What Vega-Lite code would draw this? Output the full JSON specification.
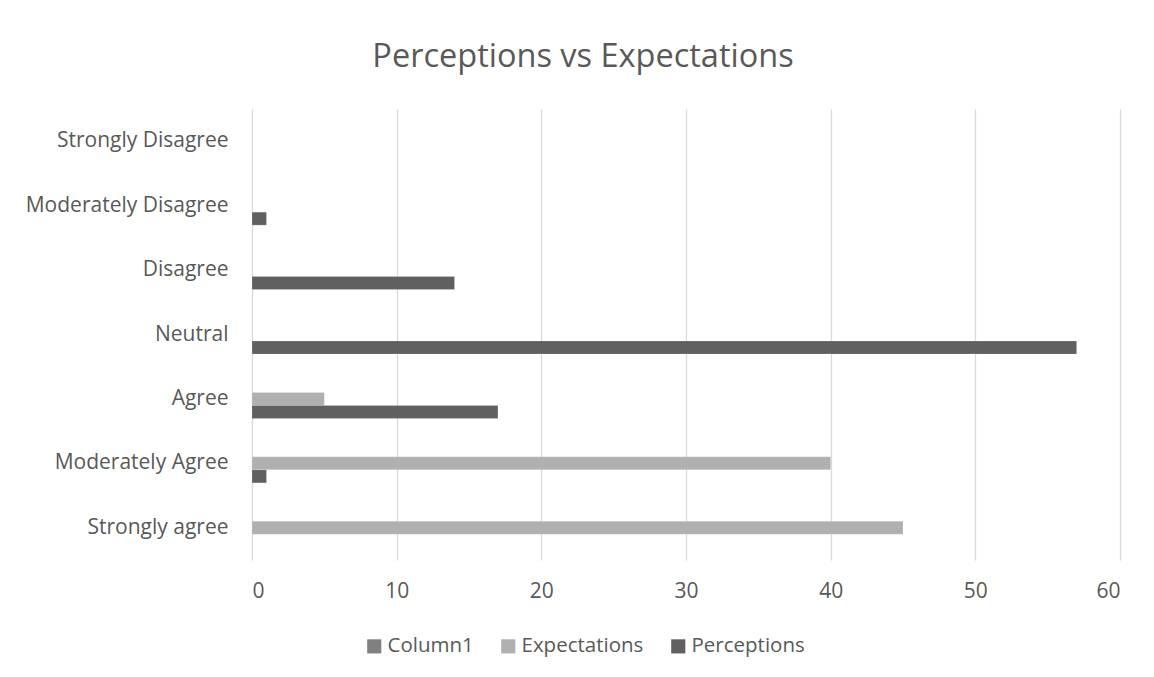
{
  "$schema": "https://vega.github.io/schema/vega-lite/v6.json",
  "width": 868,
  "height": 451,
  "autosize": {"type": "none"},
  "padding": {"left": 252, "top": 109, "right": 34, "bottom": 117},
  "background": "white",
  "title": {
    "text": "Perceptions vs Expectations",
    "font": "Open Sans",
    "fontSize": 32.5,
    "fontWeight": "normal",
    "color": "#595959",
    "anchor": "middle",
    "dx": -103,
    "offset": 36
  },
  "data": {
    "values": [
      {"category": "Moderately Disagree", "series": "Perceptions", "value": 1},
      {"category": "Disagree", "series": "Perceptions", "value": 14},
      {"category": "Neutral", "series": "Perceptions", "value": 57},
      {"category": "Agree", "series": "Expectations", "value": 5},
      {"category": "Agree", "series": "Perceptions", "value": 17},
      {"category": "Moderately Agree", "series": "Expectations", "value": 40},
      {"category": "Moderately Agree", "series": "Perceptions", "value": 1},
      {"category": "Strongly agree", "series": "Expectations", "value": 45}
    ]
  },
  "mark": {"type": "bar", "stroke": "#ffffff", "strokeOpacity": 0.35, "strokeWidth": 0.5},
  "encoding": {
    "y": {
      "field": "category",
      "type": "nominal",
      "scale": {
        "domain": ["Strongly Disagree", "Moderately Disagree", "Disagree", "Neutral", "Agree", "Moderately Agree", "Strongly agree"],
        "paddingInner": 0.394,
        "paddingOuter": 0.197
      },
      "axis": {
        "title": null,
        "domain": false,
        "ticks": false,
        "labelPadding": 24,
        "labelLimit": 400,
        "labelFont": "Open Sans",
        "labelFontSize": 21,
        "labelColor": "#595959",
        "grid": false
      }
    },
    "yOffset": {
      "field": "series",
      "type": "nominal",
      "scale": {"domain": ["Column1", "Expectations", "Perceptions"], "paddingInner": 0, "paddingOuter": 0}
    },
    "x": {
      "field": "value",
      "type": "quantitative",
      "scale": {"domain": [0, 60], "nice": false},
      "axis": {
        "title": null,
        "values": [0, 10, 20, 30, 40, 50, 60],
        "domain": false,
        "ticks": false,
        "labelPadding": 20,
        "labelFont": "Open Sans",
        "labelFontSize": 21,
        "labelColor": "#595959",
        "grid": true,
        "gridColor": "#d9d9d9",
        "gridWidth": 1.3
      }
    },
    "color": {
      "field": "series",
      "type": "nominal",
      "scale": {"domain": ["Column1", "Expectations", "Perceptions"], "range": ["#808080", "#b0b0b0", "#606060"]},
      "legend": {
        "title": null,
        "orient": "none",
        "direction": "horizontal",
        "legendX": 112,
        "legendY": 527,
        "symbolType": "square",
        "symbolSize": 200,
        "symbolStrokeWidth": 0,
        "labelFont": "Open Sans",
        "labelFontSize": 20.5,
        "labelColor": "#595959",
        "labelOffset": 3,
        "labelLimit": 300,
        "columnPadding": 24
      }
    }
  },
  "config": {"view": {"stroke": null}}
}
